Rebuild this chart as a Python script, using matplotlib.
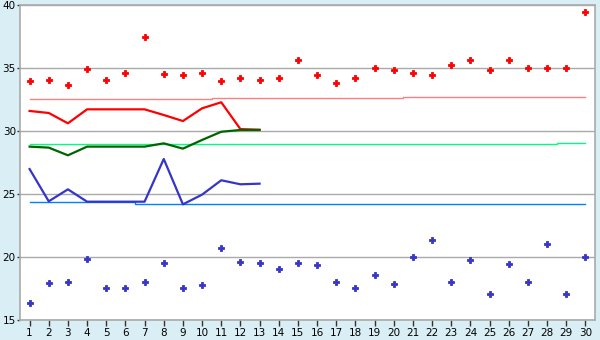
import matplotlib
matplotlib.use("Agg")
import matplotlib.pyplot as plt

days = list(range(1, 31))

red_points = [33.94, 34.02, 33.63, 34.9, 34.02, 34.6, 37.5, 34.5, 34.42, 34.6,
              33.94, 34.18, 34.02, 34.18, 35.6, 34.42, 33.79, 34.18, 34.98, 34.82,
              34.58, 34.42, 35.2, 35.6, 34.82, 35.6, 35.0, 35.0, 35.0, 39.42]
blue_points = [16.33, 17.91, 17.99, 19.82, 17.52, 17.52, 17.99, 19.5, 17.52, 17.75,
               20.69, 19.58, 19.5, 19.02, 19.5, 19.34, 17.99, 17.52, 18.55, 17.83,
               19.98, 21.33, 17.99, 19.74, 17.04, 19.42, 17.99, 21.01, 17.04, 19.98]

line_days = list(range(1, 14))
red_line = [31.59, 31.43, 30.61, 31.72, 31.72, 31.72, 31.72, 31.27, 30.79, 31.8,
            32.28, 30.15, 30.1]
green_line = [28.76, 28.68, 28.07, 28.76, 28.76, 28.76, 28.76, 29.02, 28.6, 29.29,
              29.94, 30.08, 30.08]
blue_line = [26.98, 24.42, 25.37, 24.39, 24.39, 24.39, 24.39, 27.78, 24.18, 24.95,
             26.09, 25.77, 25.82]

pink_ref = [32.52] * 10 + [32.6] * 10 + [32.72] * 10
green_ref = [28.94] * 28 + [29.02] * 2
blue_ref = [24.34] * 6 + [24.2] * 24

yticks = [15, 20, 25, 30, 35, 40]

bg = "#daeff5"
grid_c = "#aaaaaa"

fig = plt.figure(figsize=(6, 3.4), dpi=100, facecolor=bg)
ax = fig.add_axes([20/600, 1 - 320/340, 575/600, 315/340])
ax.set_facecolor("white")

for y in yticks:
    ax.axhline(y, color=grid_c, lw=1.0, zorder=1)

ax.plot(days, pink_ref, color="#ff8080", lw=1.0, drawstyle="steps-mid", zorder=2)
ax.plot(days, green_ref, color="#00ff80", lw=1.0, drawstyle="steps-mid", zorder=2)
ax.plot(days, blue_ref, color="#0080ff", lw=1.0, drawstyle="steps-mid", zorder=2)

ax.plot(line_days, blue_line, color="#3535c8", lw=1.6, zorder=3)
ax.plot(line_days, red_line, color="#ff0000", lw=1.6, zorder=3)
ax.plot(line_days, green_line, color="#006400", lw=1.6, zorder=4)

ax.plot(days, red_points, linestyle="none", marker="P", markersize=4.5,
        markeredgewidth=0.6, color="#ff0000", zorder=5)
ax.plot(days, blue_points, linestyle="none", marker="P", markersize=4.5,
        markeredgewidth=0.6, color="#3535c8", zorder=5)

ax.set_xlim(0.5, 30.5)
ax.set_ylim(15, 40)
ax.set_xticks(days)
ax.set_xticklabels([str(d) for d in days])
ax.set_yticks(yticks)
ax.set_yticklabels([str(y) for y in yticks])
ax.tick_params(axis="x", labelsize=7.5, length=4, width=1, color="#333333",
               labelcolor="black", pad=2)
ax.tick_params(axis="y", labelsize=7.5, length=2, width=1, color="#333333",
               labelcolor="black", pad=1)
for s in ax.spines.values():
    s.set_color(grid_c)
    s.set_linewidth(1.2)

fig.savefig("out.png", dpi=100, facecolor=bg)
